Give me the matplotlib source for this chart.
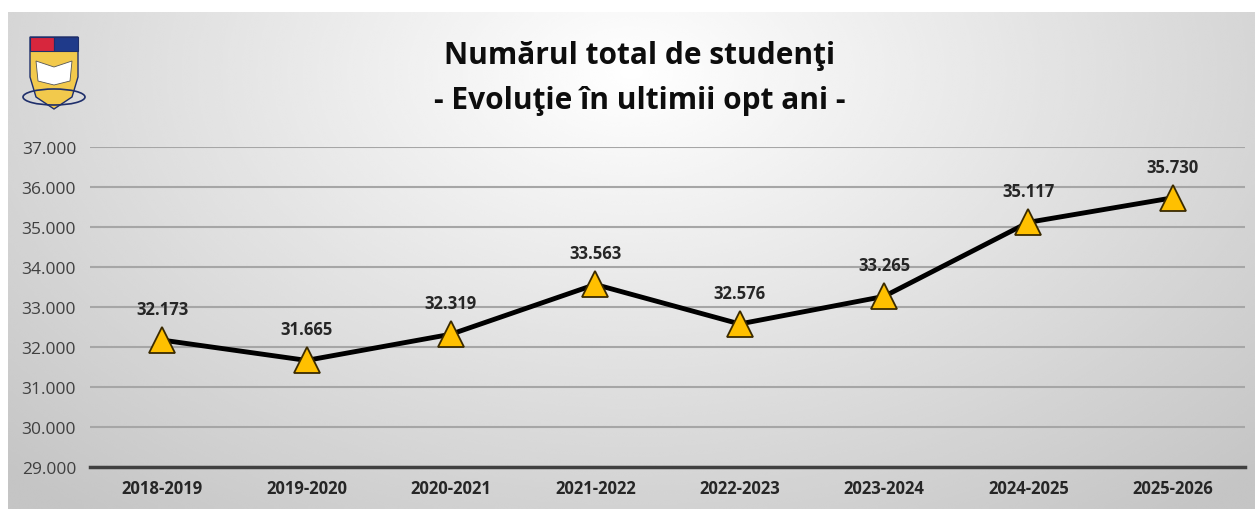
import numpy as np
import matplotlib
matplotlib.use("Agg")
import matplotlib.pyplot as plt
from matplotlib.patches import Polygon, Rectangle, Ellipse

years = ["2018-2019", "2019-2020", "2020-2021", "2021-2022",
         "2022-2023", "2023-2024", "2024-2025", "2025-2026"]
students = [32173, 31665, 32319, 33563, 32576, 33265, 35117, 35730]
yticks = [29000, 30000, 31000, 32000, 33000, 34000, 35000, 36000, 37000]
title1 = "Numărul total de studenţi"
title2 = "- Evoluţie în ultimii opt ani -"

def fmt(v):
    return f"{v:,}".replace(",", ".")

plt.rcParams['font.family'] = ['Open Sans', 'DejaVu Sans']

W, H = 1255, 510
fig = plt.figure(figsize=(W / 100, H / 100), dpi=100)
fig.patch.set_facecolor("white")

# background panel with radial gradient
bg = fig.add_axes([8 / W, 0, 1 - 8 / W, (H - 13) / H])
bg.set_axis_off()
yy, xx = np.mgrid[0:1:300j, 0:1:700j]
r = np.sqrt(((xx - 0.5) / 0.62) ** 2 + ((yy - 0.88) / 1.0) ** 2)
val = np.clip(1.0 - 0.2 * r, 0.77, 1.0)
bg.imshow(val, cmap="gray", vmin=0, vmax=1, extent=[0, 1, 0, 1],
          origin="lower", aspect="auto", interpolation="bicubic")
bg.set_xlim(0, 1)
bg.set_ylim(0, 1)

# simple emblem
lg = fig.add_axes([20 / W, (H - 118) / H, 68 / W, 82 / H])
lg.set_axis_off()
lg.set_xlim(0, 68)
lg.set_ylim(0, 82)
lg.add_patch(Polygon([[10, 80], [58, 80], [58, 40], [52, 20], [34, 8], [16, 20], [10, 40]],
                     closed=True, facecolor="#f2c94c", edgecolor="#1f2f6b", lw=1))
lg.add_patch(Rectangle((10, 66), 24, 14, facecolor="#d7263d", edgecolor="#1f2f6b", lw=0.8))
lg.add_patch(Rectangle((34, 66), 24, 14, facecolor="#1f3a8a", edgecolor="#1f2f6b", lw=0.8))
lg.add_patch(Polygon([[16, 56], [34, 50], [52, 56], [50, 36], [34, 32], [18, 36]],
                     closed=True, facecolor="white", edgecolor="#555555", lw=0.6))
lg.add_patch(Ellipse((34, 20), 62, 16, facecolor="none", edgecolor="#1f2f6b", lw=1.2))

# main axes
ax = fig.add_axes([90 / W, (H - 468) / H, (1245 - 90) / W, 320 / H])
ax.patch.set_alpha(0)
x = np.arange(len(years))
ax.set_xlim(-0.5, len(years) - 0.5)
ax.set_ylim(29000, 37000)
ax.set_yticks(yticks)
ax.set_yticklabels([fmt(v) for v in yticks], fontsize=12.5, color="#404040")
ax.set_xticks(x)
ax.set_xticklabels(years, fontsize=12, fontweight="bold", color="#262626")
ax.tick_params(axis="both", length=0)
ax.tick_params(axis="y", pad=10)
ax.tick_params(axis="x", pad=9)
for s in ["top", "right", "left"]:
    ax.spines[s].set_visible(False)
ax.spines["bottom"].set_color("#404040")
ax.spines["bottom"].set_linewidth(2.5)
ax.grid(axis="y", color="#a6a6a6", lw=1.5)
ax.set_axisbelow(True)

ax.plot(x, students, color="black", lw=3.5, zorder=3, solid_capstyle="round")
ax.plot(x, students, linestyle="none", marker="^", markersize=19,
        markerfacecolor="#FFC000", markeredgecolor="#3a2a00", markeredgewidth=1.3, zorder=4)
for xi, v in zip(x, students):
    ax.annotate(fmt(v), (xi, v), xytext=(0, 16), textcoords="offset points",
                ha="center", va="bottom", fontsize=12, fontweight="bold", color="#262626")

fig.text(640 / W, 1 - 56 / H, title1, ha="center", va="center",
         fontsize=21.5, fontweight="bold", color="#0d0d0d")
fig.text(640 / W, 1 - 101 / H, title2, ha="center", va="center",
         fontsize=21.5, fontweight="bold", color="#0d0d0d")

fig.savefig("out.png", dpi=100)
